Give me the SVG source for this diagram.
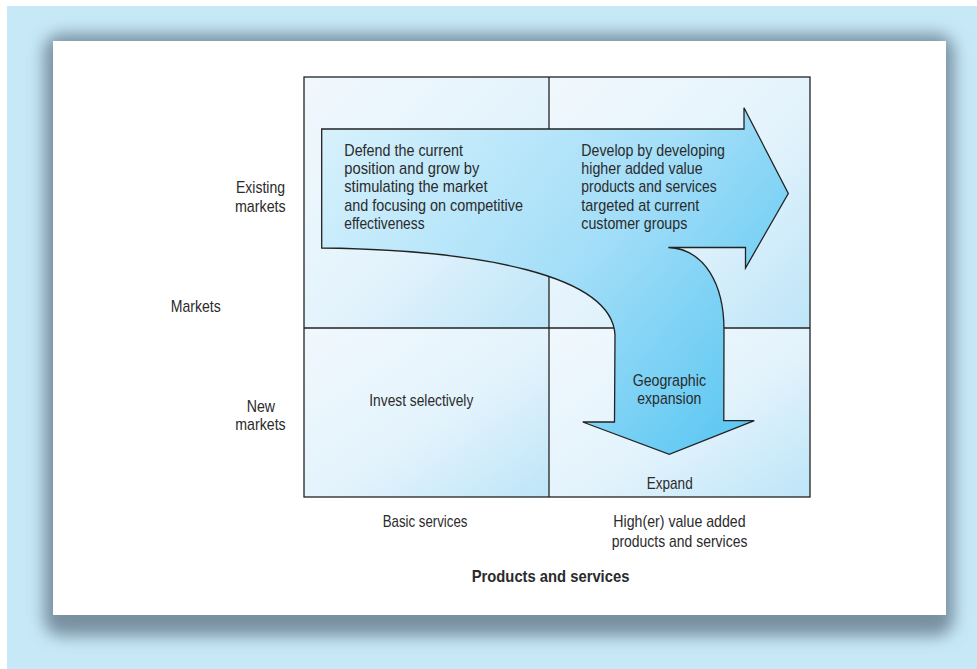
<svg xmlns="http://www.w3.org/2000/svg" width="977" height="669" viewBox="0 0 977 669">
<defs>
<filter id="blur" x="-10%" y="-10%" width="120%" height="120%"><feGaussianBlur stdDeviation="8"/></filter>
<linearGradient id="cell" x1="0" y1="0" x2="1" y2="1">
<stop offset="0" stop-color="#f1f8fd"/>
<stop offset="0.55" stop-color="#e3f3fc"/>
<stop offset="1" stop-color="#bde5f8"/>
</linearGradient>
<linearGradient id="arr" gradientUnits="userSpaceOnUse" x1="330" y1="130" x2="720" y2="450">
<stop offset="0" stop-color="#d6f1fc"/>
<stop offset="0.55" stop-color="#a3def8"/>
<stop offset="1" stop-color="#5ec8f2"/>
</linearGradient>
<style>
.t{font-family:"Liberation Sans",Arial,sans-serif;font-size:17px;fill:#2b2b2b;}
.b{font-weight:bold;}
.cell{fill:url(#cell);}
.grid{fill:none;stroke:#222;stroke-width:1.3;}
</style>
</defs>
<rect x="7" y="6" width="970" height="663" fill="#c6e8f7"/>
<rect x="44" y="34" width="910" height="602" rx="18" fill="#7890a0" filter="url(#blur)"/>
<rect x="53" y="41" width="893" height="574" fill="#ffffff"/>
<g id="matrix">
<rect class="cell" x="304" y="77" width="245" height="251"/>
<rect class="cell" x="549" y="77" width="261" height="251"/>
<rect class="cell" x="304" y="328" width="245" height="169"/>
<rect class="cell" x="549" y="328" width="261" height="169"/>
<rect class="grid" x="304" y="77" width="506" height="420"/>
<line class="grid" x1="549" y1="77" x2="549" y2="497"/>
<line class="grid" x1="304" y1="328" x2="810" y2="328"/>
</g>
<g id="connectors">
<path d="M321.7,129 L744,129 L744,107.7 L788.3,193.5 L745.5,268 L745.5,247.5 L668.3,247.5 C705,249 724,285 724,330 L723.8,420.7 L754.3,420.7 L669.3,454.3 L582.7,422 L614.5,422 L615,335 C612,275 480,250 321.7,248 Z" fill="url(#arr)" stroke="#222" stroke-width="1.3" stroke-linejoin="miter"/>
</g>
<g id="defend">
<text class="t" x="344.3" y="155.5" textLength="118.7" lengthAdjust="spacingAndGlyphs">Defend the current</text>
<text class="t" x="344.3" y="174" textLength="135" lengthAdjust="spacingAndGlyphs">position and grow by</text>
<text class="t" x="344.3" y="192.3" textLength="143.3" lengthAdjust="spacingAndGlyphs">stimulating the market</text>
<text class="t" x="344.3" y="210.8" textLength="178.7" lengthAdjust="spacingAndGlyphs">and focusing on competitive</text>
<text class="t" x="344.3" y="229.3" textLength="80.3" lengthAdjust="spacingAndGlyphs">effectiveness</text>
</g>
<g id="develop">
<text class="t" x="581.3" y="155.5" textLength="143.7" lengthAdjust="spacingAndGlyphs">Develop by developing</text>
<text class="t" x="581.3" y="174" textLength="121.3" lengthAdjust="spacingAndGlyphs">higher added value</text>
<text class="t" x="581.3" y="192.3" textLength="135.3" lengthAdjust="spacingAndGlyphs">products and services</text>
<text class="t" x="581.3" y="210.8" textLength="118" lengthAdjust="spacingAndGlyphs">targeted at current</text>
<text class="t" x="581.3" y="229.3" textLength="106" lengthAdjust="spacingAndGlyphs">customer groups</text>
</g>
<g id="invest">
<text class="t" x="369.3" y="406" textLength="104" lengthAdjust="spacingAndGlyphs">Invest selectively</text>
</g>
<g id="geographic">
<text class="t" x="632.7" y="385.5" textLength="73.3" lengthAdjust="spacingAndGlyphs">Geographic</text>
<text class="t" x="637.3" y="404" textLength="64" lengthAdjust="spacingAndGlyphs">expansion</text>
</g>
<g id="expand">
<text class="t" x="646.7" y="489" textLength="46" lengthAdjust="spacingAndGlyphs">Expand</text>
</g>
<g id="axis-markets">
<text class="t" x="236" y="193.3" textLength="49" lengthAdjust="spacingAndGlyphs">Existing</text>
<text class="t" x="235" y="211.7" textLength="50.7" lengthAdjust="spacingAndGlyphs">markets</text>
<text class="t" x="170.7" y="311.7" textLength="50" lengthAdjust="spacingAndGlyphs">Markets</text>
<text class="t" x="246.7" y="411.7" textLength="28.3" lengthAdjust="spacingAndGlyphs">New</text>
<text class="t" x="235.3" y="430" textLength="50.4" lengthAdjust="spacingAndGlyphs">markets</text>
</g>
<g id="axis-products">
<text class="t" x="382.7" y="527.3" textLength="84.7" lengthAdjust="spacingAndGlyphs">Basic services</text>
<text class="t" x="613.3" y="527.3" textLength="132.3" lengthAdjust="spacingAndGlyphs">High(er) value added</text>
<text class="t" x="611.7" y="546.7" textLength="135.7" lengthAdjust="spacingAndGlyphs">products and services</text>
<text class="t b" x="471.7" y="581.7" textLength="157.7" lengthAdjust="spacingAndGlyphs">Products and services</text>
</g>
</svg>
